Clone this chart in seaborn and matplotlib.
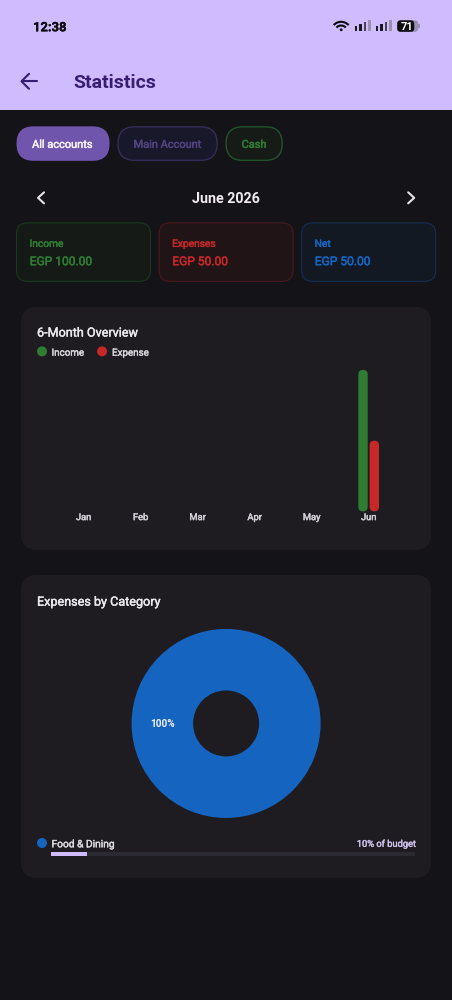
import matplotlib
matplotlib.use("Agg")
import matplotlib.pyplot as plt
import matplotlib.patheffects as pe
from matplotlib.patches import FancyBboxPatch, Circle, Rectangle, Arc
import seaborn as sns
import pandas as pd

months = ["Jan", "Feb", "Mar", "Apr", "May", "Jun"]
income = [0, 0, 0, 0, 0, 100]
expense = [0, 0, 0, 0, 0, 50]
cat_names = ["Food & Dining"]
cat_values = [100]
budget_used = [10]
summary_labels = ["Income", "Expenses", "Net"]
summary_values = ["EGP 100.00", "EGP 50.00", "EGP 50.00"]
chips = ["All accounts", "Main Account", "Cash"]

W, H = 452, 1000
GREEN, RED, BLUE = "#2e7d32", "#c62828", "#1565c0"
HEADER, BG, CARD = "#cfbcff", "#141317", "#1e1c20"
INK = "#381e72"

sns.set_theme(style="dark")
plt.rcParams["font.family"] = ["Roboto", "DejaVu Sans"]

fig = plt.figure(figsize=((W + 0.2) / 100, (H + 0.2) / 100), dpi=100, facecolor=BG)


def px_axes(x0, y0, x1, y1, **kw):
    a = fig.add_axes([x0 / W, 1 - y1 / H, (x1 - x0) / W, (y1 - y0) / H], **kw)
    a.patch.set_alpha(0)
    return a


def fs(px):
    return px * 0.72


def medium(artist, color, amount=0.3):
    artist.set_path_effects([pe.withStroke(linewidth=amount, foreground=color)])


ui = px_axes(0, 0, W, H)
ui.set_xlim(0, W)
ui.set_ylim(H, 0)
ui.axis("off")


def rbox(x0, y0, x1, y1, r, fc, ec="none", lw=1.0, z=1):
    ui.add_patch(FancyBboxPatch((x0, y0), x1 - x0, y1 - y0, boxstyle=f"round,pad=0,rounding_size={r}",
                                fc=fc, ec=ec, lw=lw, zorder=z))


def txt(x, y, s, px, color, weight="normal", ha="left", stroke=0.3):
    t = ui.text(x, y, s, fontsize=fs(px), color=color, fontweight=weight, ha=ha, va="center_baseline", zorder=5)
    if stroke:
        medium(t, color, stroke)
    return t


def poly(xs, ys, color, lw):
    ui.plot(xs, ys, color=color, lw=lw, solid_capstyle="round", solid_joinstyle="round", zorder=5)


# header
ui.add_patch(Rectangle((0, 0), W, 110, fc=HEADER, ec="none", zorder=1))
txt(33, 26.5, "12:38", 13, "#0c0a10", "bold", stroke=0.2)
# wifi
for r, lw in [(10, 1.5), (6.3, 1.5)]:
    ui.add_patch(Arc((341, 32), 2 * r, 2 * r, theta1=222, theta2=318, color="#0c0a10", lw=lw, zorder=5))
ui.add_patch(Circle((341, 30), 1.4, fc="#0c0a10", ec="none", zorder=5))
# signal bars
for x0 in (354.5, 375.5):
    for i, (h, c) in enumerate(zip((5, 7, 9, 11.5), ("#1a1820", "#1a1820", "#4a4650", "#9a90b0"))):
        ui.add_patch(Rectangle((x0 + i * 4.6, 31.5 - h), 2.4, h, fc=c, ec="none", zorder=5))
# battery
rbox(397, 20.5, 418, 32, 3.5, "#9a8fb5", z=4)
rbox(397, 20.5, 414, 32, 3.5, "#0f0d12", z=4)
ui.add_patch(Rectangle((418, 24), 1.5, 4.5, fc="#9a8fb5", ec="none", zorder=4))
txt(407, 26.3, "71", 11, "#ffffff", "bold", "center", stroke=0)
# toolbar
poly([37, 21.5], [81.5, 81.5], INK, 1.5)
poly([29, 21.5, 29], [74, 81.5, 89], INK, 1.5)
txt(73.8, 81, "Statistics", 19.5, INK, "bold", stroke=0)

# chips
rbox(16.5, 126.5, 109.5, 161, 17, "#6f55ab")
rbox(118, 127, 217, 160.5, 16.5, "#19172a", "#352d59", 1.0)
rbox(226, 127, 282, 160.5, 16.5, "#161b18", "#22542a", 1.0)
txt(62.5, 144, chips[0], 11, "#f4effa", ha="center", stroke=0.35)
txt(167.5, 144, chips[1], 11, "#51437f", ha="center", stroke=0.35)
txt(254, 144, chips[2], 11, "#2e7d32", ha="center", stroke=0.35)

# month row
poly([44, 38, 44], [192.5, 198, 203.5], "#e6e1e5", 1.5)
poly([408, 414, 408], [192.5, 198, 203.5], "#e6e1e5", 1.5)
txt(226, 197.8, "June 2026", 14.3, "#f0ecf2", "bold", "center", stroke=0)

# summary cards
card_x = [(16.5, 150.5), (159, 293), (301.5, 435.5)]
fills = ["#151a16", "#211417", "#131923"]
edges = ["#1a3a1f", "#4a1a1e", "#132f54"]
tones = [GREEN, RED, BLUE]
for (x0, x1), f, e, t, lab, val in zip(card_x, fills, edges, tones, summary_labels, summary_values):
    rbox(x0, 223, x1, 281.5, 11, f, e, 0.8)
    txt(x0 + 13, 243, lab, 10.2, t)
    txt(x0 + 13.2, 260.3, val, 12, t, stroke=0.35)

# overview card
rbox(21, 307, 431, 550, 16, CARD)
txt(37, 331.7, "6-Month Overview", 12.6, "#ece8ee")
ui.add_patch(Circle((42, 351.5), 5, fc=GREEN, ec="none", zorder=5))
txt(51.5, 351.8, "Income", 9.8, "#d6d2d9")
ui.add_patch(Circle((102, 351.5), 5, fc=RED, ec="none", zorder=5))
txt(112, 351.8, "Expense", 9.8, "#d6d2d9")

df = pd.DataFrame({
    "month": months * 2,
    "kind": ["Income"] * len(months) + ["Expense"] * len(months),
    "amount": income + expense,
})
ax = px_axes(55, 370, 397, 511.5)
sns.barplot(data=df, x="month", y="amount", hue="kind", order=months,
            palette={"Income": GREEN, "Expense": RED}, width=0.396, gap=0.17,
            saturation=1, legend=False, linewidth=0, ax=ax)
ax.set_xlim(-0.5, 5.5)
ax.set_ylim(0, 100)
ax.set_xlabel("")
ax.set_ylabel("")
ax.set_yticks([])
ax.grid(False)
sns.despine(ax=ax, left=True, bottom=True)
ax.tick_params(axis="x", length=0, pad=1.2, labelsize=fs(9.3), labelcolor="#d0ccd3")
for lab in ax.get_xticklabels():
    medium(lab, "#d0ccd3", 0.35)
# round the corners of the drawn bars, keeping their data geometry
sx = 342 / 6
sy = 141.5 / 100
radius = 4.7
for p in list(ax.patches):
    if p.get_height() > 0:
        round_bar = FancyBboxPatch((p.get_x(), p.get_y()), p.get_width(), p.get_height(),
                                   boxstyle=f"round,pad=0,rounding_size={radius / sx}",
                                   mutation_aspect=sx / sy, fc=p.get_facecolor(), ec="none", clip_on=False)
        p.remove()
        ax.add_patch(round_bar)

# category card
rbox(21, 575, 431, 878, 16, CARD)
txt(37, 600.7, "Expenses by Category", 12.6, "#ece8ee")
R = 94.5
pie_ax = px_axes(226 - R, 723.5 - R, 226 + R, 723.5 + R)
pie_ax.pie(cat_values, colors=[BLUE], startangle=0, radius=1,
           wedgeprops={"width": 61.5 / R, "linewidth": 0},
           autopct=lambda v: f"{v:.0f}%", pctdistance=0.672,
           textprops={"color": "#f2eff4", "fontsize": fs(10), "fontweight": "bold"})
pie_ax.set_xlim(-1, 1)
pie_ax.set_ylim(-1, 1)

ui.add_patch(Circle((42, 843), 5, fc=BLUE, ec="none", zorder=5))
txt(51.5, 843.3, cat_names[0], 10.2, "#dcd8de")
txt(415, 843.3, f"{budget_used[0]}% of budget", 9.3, "#cdbfe8", ha="right")

bar_ax = px_axes(51, 852, 415, 856)
bar_ax.barh([0], [100], height=1, color="#2c2a31", linewidth=0)
bar_ax.barh([0], budget_used, height=1, color=HEADER, linewidth=0)
bar_ax.set_xlim(0, 100)
bar_ax.set_ylim(-0.5, 0.5)
bar_ax.axis("off")

fig.savefig("out.png", dpi=100, facecolor=BG)
